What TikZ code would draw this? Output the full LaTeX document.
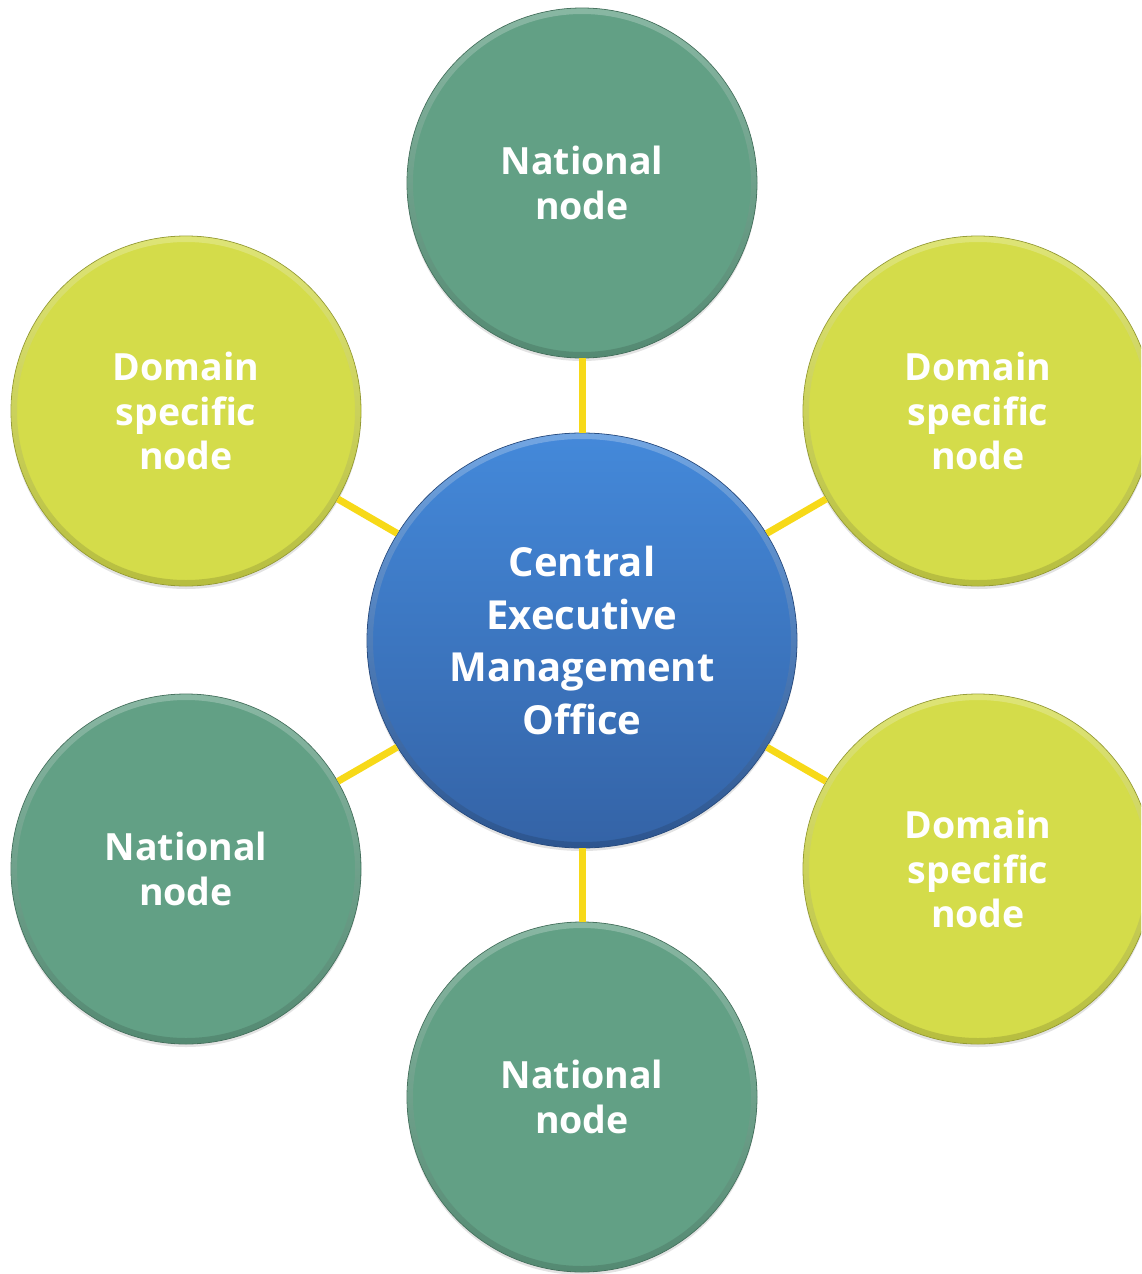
\documentclass[tikz,border=0pt]{standalone}
\usepackage{fontspec}
\setmainfont{Open Sans}
\usetikzlibrary{shadows,shapes.geometric}
\definecolor{natgreen}{HTML}{62A085}
\definecolor{domyellow}{HTML}{D4DC4A}
\definecolor{bluetop}{HTML}{4489DA}
\definecolor{bluebot}{HTML}{3463A6}
\definecolor{linkyellow}{HTML}{F7D918}
\tikzset{
  outernode/.style={circle, minimum size=350pt, inner sep=0pt, text=white,
    font=\bfseries\fontsize{37.5}{44.5}\selectfont, align=center, line width=0.8pt,
    drop shadow={opacity=0.22, shadow xshift=0pt, shadow yshift=-3pt}},
  natnode/.style={outernode, fill=natgreen, draw=natgreen!70!black},
  domnode/.style={outernode, fill=domyellow, draw=domyellow!70!black},
  hubnode/.style={ellipse, minimum width=430pt, minimum height=415pt, inner sep=0pt, text=white,
    font=\bfseries\fontsize{40}{52.5}\selectfont, align=center,
    top color=bluetop, bottom color=bluebot, draw=bluebot!75!black, line width=0.8pt,
    drop shadow={opacity=0.22, shadow xshift=0pt, shadow yshift=-3pt}},
  link/.style={draw=linkyellow, line width=7pt},
  bevelring/.style={even odd rule, top color=#1!55!white, middle color=#1, bottom color=#1!75!black, opacity=0.55}
}
\newcommand\mybevel[2]{%
  \shade[bevelring=#2] (#1.center) circle[radius=174.6pt] (#1.center) circle[radius=169pt];}
\begin{document}
\begin{tikzpicture}[x=1pt,y=-1pt]
\useasboundingbox (0,0) rectangle (1141,1274);
\clip (0,0) rectangle (1141,1274);
\fill[white] (0,0) rectangle (1141,1274);
\node[hubnode] (hub) at (582,640.5) {Central\\Executive\\Management\\Office};
\node[natnode] (ntop) at (582,183) {National\\node};
\node[natnode] (nbot) at (582,1097) {National\\node};
\node[natnode] (nleft) at (186,869) {National\\node};
\node[domnode] (dul) at (186,411) {Domain\\specific\\node};
\node[domnode] (dur) at (978,411) {Domain\\specific\\node};
\node[domnode] (dlr) at (978,869) {Domain\\specific\\node};
\mybevel{ntop}{natgreen}
\mybevel{nbot}{natgreen}
\mybevel{nleft}{natgreen}
\mybevel{dul}{domyellow}
\mybevel{dur}{domyellow}
\mybevel{dlr}{domyellow}
\shade[even odd rule, top color=bluetop!55!white, middle color=bluetop!60!bluebot, bottom color=bluebot!75!black, opacity=0.55]
  (hub.center) ellipse[x radius=214.6pt, y radius=207.1pt]
  (hub.center) ellipse[x radius=209pt, y radius=201.5pt];
\draw[link] (hub) -- (ntop);
\draw[link] (hub) -- (nbot);
\draw[link] (hub) -- (nleft);
\draw[link] (hub) -- (dul);
\draw[link] (hub) -- (dur);
\draw[link] (hub) -- (dlr);
\end{tikzpicture}
\end{document}
